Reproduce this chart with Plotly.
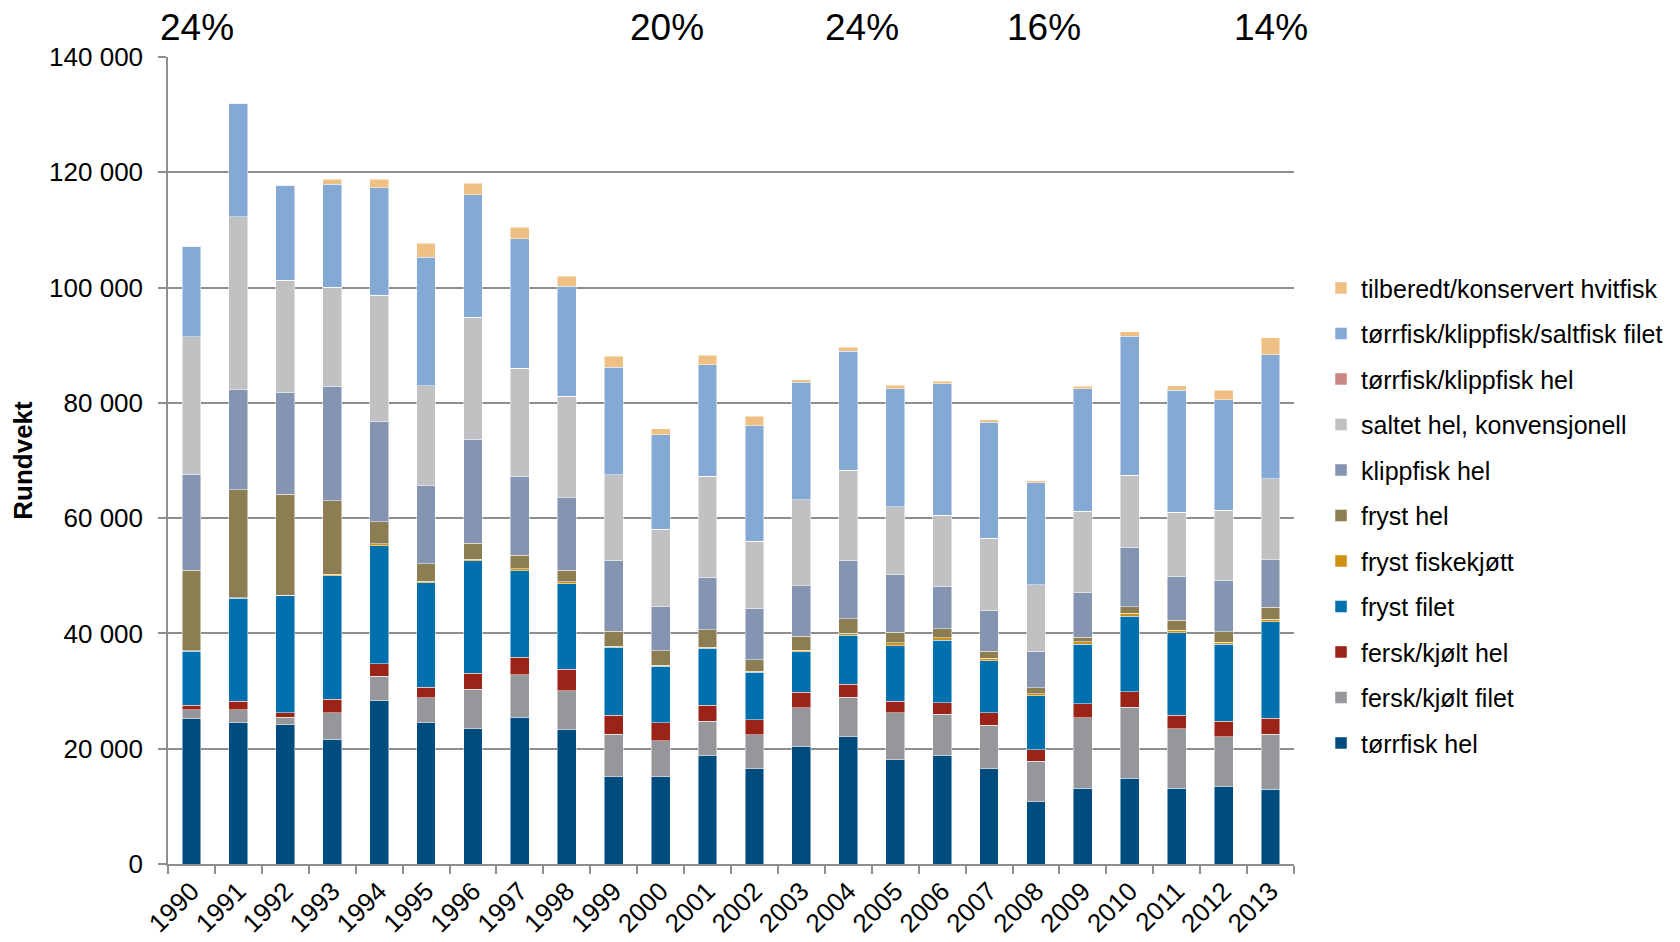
import plotly.graph_objects as go

years = [str(y) for y in range(1990, 2014)]

# series values, bottom to top of the stack
torrfisk_hel = [25200, 24500, 24200, 21600, 28300, 24500, 23500, 25500, 23300, 15100, 15100, 18800,
                16500, 20400, 22100, 18100, 18900, 16500, 10800, 13100, 14900, 13100, 13400, 13000]
fersk_filet = [1600, 2300, 1300, 4600, 4300, 4300, 6800, 7300, 6800, 7400, 6300, 6000,
               5900, 6700, 6800, 8100, 7100, 7600, 7000, 12300, 12300, 10400, 8700, 9500]
fersk_hel = [700, 1400, 700, 2400, 2100, 1900, 2800, 3100, 3700, 3300, 3100, 2700,
             2600, 2700, 2300, 2000, 2000, 2100, 2000, 2400, 2700, 2300, 2700, 2800]
fryst_filet = [9400, 17900, 20300, 21400, 20500, 18100, 19500, 15000, 14800, 11800, 9800, 9900,
               8300, 7000, 8500, 9700, 10800, 9100, 9400, 10300, 13100, 14300, 13300, 16700]
fryst_fiskekjott = [100, 100, 150, 250, 400, 230, 230, 290, 350, 170, 170, 180,
                    170, 290, 340, 470, 410, 410, 350, 470, 460, 410, 350, 470]
fryst_hel = [14000, 18700, 17500, 12800, 3800, 3100, 2800, 2400, 2000, 2600, 2500, 3100,
             2000, 2400, 2500, 1800, 1600, 1200, 1000, 750, 1200, 1800, 1800, 2100]
klippfisk_hel = [16600, 17400, 17700, 19800, 17400, 13500, 18100, 13700, 12600, 12300, 7700, 9100,
                 8800, 8800, 10100, 10000, 7400, 7000, 6400, 7700, 10300, 7600, 9000, 8200]
saltet_hel = [23900, 30000, 19400, 17200, 21900, 17300, 21100, 18700, 17600, 14900, 13400, 17500,
              11700, 14900, 15700, 11800, 12300, 12600, 11500, 14200, 12500, 11100, 12100, 14100]
torr_klipp_hel = [0] * 24
saltfisk_filet = [15700, 19700, 16500, 17900, 18600, 22300, 21300, 22500, 19100, 18600, 16400, 19300,
                  20100, 20400, 20600, 20500, 22800, 20100, 17700, 21200, 24100, 21200, 19200, 21500]
tilberedt = [0, 0, 0, 870, 1450, 2500, 2000, 2000, 1700, 1900, 1000, 1700,
             1600, 400, 700, 600, 470, 470, 350, 460, 800, 760, 1600, 2900]

series = [
    ("tørrfisk hel", torrfisk_hel, "#004C7F"),
    ("fersk/kjølt filet", fersk_filet, "#96979B"),
    ("fersk/kjølt hel", fersk_hel, "#9C2317"),
    ("fryst filet", fryst_filet, "#0070AE"),
    ("fryst fiskekjøtt", fryst_fiskekjott, "#CE9011"),
    ("fryst hel", fryst_hel, "#8C7E52"),
    ("klippfisk hel", klippfisk_hel, "#8594B1"),
    ("saltet hel, konvensjonell", saltet_hel, "#C1C1C3"),
    ("tørrfisk/klippfisk hel", torr_klipp_hel, "#C98786"),
    ("tørrfisk/klippfisk/saltfisk filet", saltfisk_filet, "#84A9D4"),
    ("tilberedt/konservert hvitfisk", tilberedt, "#EEC084"),
]

# percentage labels above the chart
pct_years = ["1990", "2000", "2004", "2008", "2013"]
pct_text = ["24%", "20%", "24%", "16%", "14%"]
pct_shift = [6, 6, 14, 8, 0]

fig = go.Figure()
for i, (name, vals, color) in enumerate(series):
    fig.add_trace(go.Bar(
        x=years, y=vals, name=name, legendgroup=name, legendrank=100 - i,
        marker=dict(color=color, line=dict(color="rgba(255,255,255,0.6)", width=0.8)),
    ))

for yr, txt, sh in zip(pct_years, pct_text, pct_shift):
    fig.add_annotation(x=years.index(yr), y=140000, text=txt, showarrow=False,
                       xshift=sh, yshift=30, font=dict(size=37, color="black"))

# page body adds an 8px margin, so the figure is drawn 8px smaller
fig.update_layout(
    barmode="stack",
    bargap=0.6,
    width=1672, height=934,
    margin=dict(l=160, r=384, t=49, b=78),
    plot_bgcolor="white", paper_bgcolor="white",
    font=dict(family="Liberation Sans, Arial, sans-serif", color="black"),
    separators=", ",
    legend=dict(
        x=1.024, y=0.742, xanchor="left", yanchor="top",
        traceorder="grouped", tracegroupgap=10,
        font=dict(size=25, color="black"),
    ),
)
fig.update_xaxes(
    type="category", range=[-0.5, len(years) - 0.5], automargin=False,
    showline=True, linecolor="#8E8E8E", linewidth=1.5,
    ticks="outside", tickson="boundaries", ticklen=8, tickcolor="#8E8E8E", tickwidth=1.5,
    tickangle=-45, tickfont=dict(size=26), showgrid=False,
)
fig.update_yaxes(
    range=[0, 140000], dtick=20000, tickformat=",d",
    showline=True, linecolor="#8E8E8E", linewidth=1.5,
    ticks="outside", ticklen=8, tickcolor="#8E8E8E", tickwidth=1.5,
    ticklabelstandoff=10,
    showgrid=True, gridcolor="#8E8E8E", gridwidth=1.5,
    tickfont=dict(size=26),
    title=dict(text="<b>Rundvekt</b>", font=dict(size=26), standoff=9),
)

fig.write_html("out.html")
